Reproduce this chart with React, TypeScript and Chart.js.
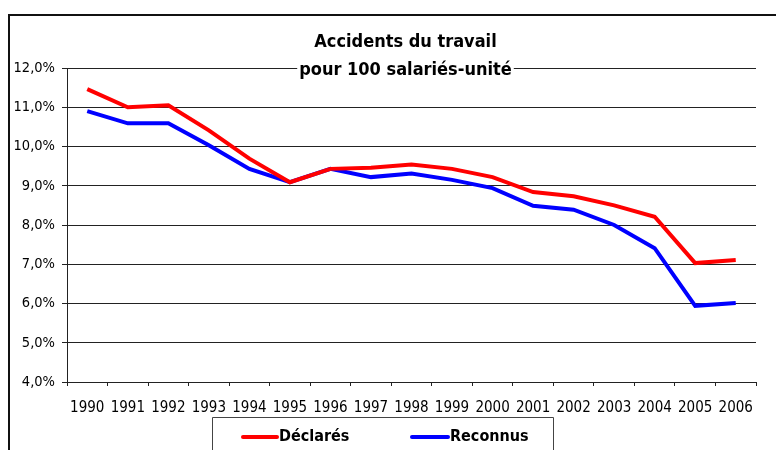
import React, { useEffect, useRef } from "react";
import { Chart, registerables } from "chart.js";

Chart.register(...registerables);

const years = ["1990", "1991", "1992", "1993", "1994", "1995", "1996", "1997", "1998", "1999", "2000", "2001", "2002", "2003", "2004", "2005", "2006"];
const declares = [11.46, 11.0, 11.05, 10.41, 9.69, 9.09, 9.43, 9.46, 9.54, 9.43, 9.22, 8.84, 8.73, 8.5, 8.21, 7.03, 7.11];
const reconnus = [10.9, 10.59, 10.59, 10.03, 9.43, 9.09, 9.43, 9.22, 9.31, 9.15, 8.94, 8.49, 8.39, 8.0, 7.41, 5.94, 6.01];
const seriesLabels = ["Déclarés", "Reconnus"];
const titleLines = ["Accidents du travail", "pour 100 salariés-unité"];

const FONT = "'Liberation Sans Narrow', 'Arial Narrow', 'DejaVu Sans Condensed', sans-serif";

const decorPlugin = {
  id: "decor",
  beforeDraw(chart: any) {
    const ctx = chart.ctx;
    ctx.save();
    ctx.fillStyle = "#fff";
    ctx.fillRect(0, 0, chart.width, chart.height);
    ctx.restore();
  },
  afterDraw(chart: any) {
    const ctx = chart.ctx;
    const area = chart.chartArea;
    ctx.save();
    // outer frame
    ctx.strokeStyle = "#111";
    ctx.lineWidth = 2;
    ctx.beginPath();
    ctx.moveTo(9, chart.height + 5);
    ctx.lineTo(9, 15);
    ctx.lineTo(chart.width + 5, 15);
    ctx.stroke();

    // title
    const cx = (area.left + area.right) / 2 - 6;
    ctx.font = `bold 18px ${FONT}`;
    ctx.textAlign = "center";
    ctx.textBaseline = "middle";
    const w2 = ctx.measureText(titleLines[1]).width;
    ctx.fillStyle = "#fff";
    ctx.fillRect(cx - w2 / 2 - 2, area.top - 8, w2 + 4, 18);
    ctx.fillStyle = "#000";
    ctx.fillText(titleLines[0], cx, area.top - 26);
    ctx.fillText(titleLines[1], cx, area.top + 2);

    // legend box
    const lx = 212.5, ly = 417.5, lw = 341;
    ctx.strokeStyle = "#444";
    ctx.lineWidth = 1;
    ctx.beginPath();
    ctx.moveTo(lx, chart.height + 5);
    ctx.lineTo(lx, ly);
    ctx.lineTo(lx + lw, ly);
    ctx.lineTo(lx + lw, chart.height + 5);
    ctx.stroke();
    const items = [
      { x: 243, w: 34 },
      { x: 412, w: 36 },
    ];
    ctx.font = `bold 16px ${FONT}`;
    ctx.textAlign = "left";
    chart.data.datasets.forEach((ds: any, i: number) => {
      const it = items[i];
      ctx.strokeStyle = ds.borderColor;
      ctx.lineWidth = 4;
      ctx.lineCap = "round";
      ctx.beginPath();
      ctx.moveTo(it.x, 437);
      ctx.lineTo(it.x + it.w, 437);
      ctx.stroke();
      ctx.fillStyle = "#000";
      ctx.fillText(ds.label, it.x + it.w + 2, 437);
    });
    ctx.restore();
  },
};

export default function App() {
  const ref = useRef<HTMLCanvasElement>(null);
  useEffect(() => {
    if (!ref.current) return;
    const chart = new Chart(ref.current, {
      type: "line",
      data: {
        labels: years,
        datasets: [
          { label: seriesLabels[0], data: declares, borderColor: "#ff0000", backgroundColor: "#ff0000", borderWidth: 4, pointRadius: 0, tension: 0 },
          { label: seriesLabels[1], data: reconnus, borderColor: "#0000ff", backgroundColor: "#0000ff", borderWidth: 4, pointRadius: 0, tension: 0 },
        ],
      },
      options: {
        responsive: false,
        animation: false,
        layout: { padding: { top: 68, right: 20, left: 0, bottom: 0 } },
        plugins: { legend: { display: false }, title: { display: false }, tooltip: { enabled: false } },
        scales: {
          x: {
            type: "category",
            offset: true,
            grid: { offset: true, drawOnChartArea: false, drawTicks: true, tickLength: 4, color: "#222" },
            border: { color: "#222", width: 1 },
            ticks: { color: "#000", font: { family: FONT, size: 15 }, padding: 13, maxRotation: 0, autoSkip: false },
            afterFit: (s: any) => { s.height = 68; },
          },
          y: {
            min: 4,
            max: 12,
            grid: { color: "#222", tickLength: 5 },
            border: { color: "#222", width: 1 },
            ticks: {
              stepSize: 1,
              color: "#000",
              padding: 7,
              font: { family: FONT, size: 14.5 },
              callback: (v: any) => Number(v).toFixed(1).replace(".", ",") + "%",
            },
            afterFit: (s: any) => { s.width = 67; },
          },
        },
      },
      plugins: [decorPlugin],
    });
    return () => chart.destroy();
  }, []);
  return (
    <canvas
      ref={ref}
      width={776}
      height={450}
      style={{ position: "absolute", left: 0, top: 0, width: 776, height: 450, display: "block" }}
    />
  );
}
